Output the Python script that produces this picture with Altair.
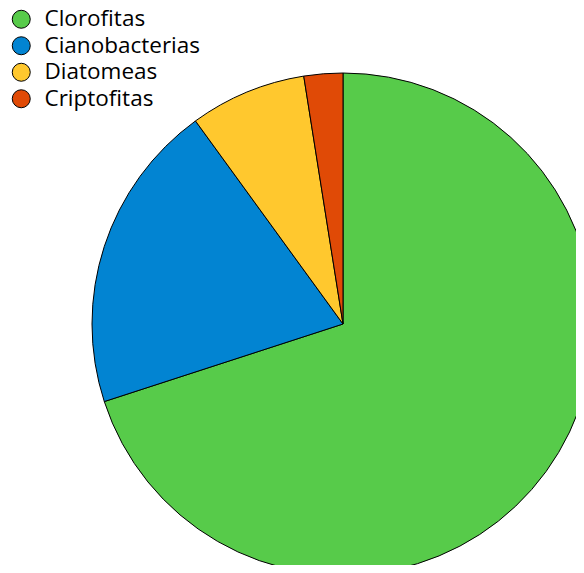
import altair as alt
import pandas as pd

categories = ["Clorofitas", "Cianobacterias", "Diatomeas", "Criptofitas"]
values = [70, 20, 7.5, 2.5]
colors = ["#57CB4A", "#0284D2", "#FFC82E", "#E04A06"]

df = pd.DataFrame({"grupo": categories, "valor": values, "orden": list(range(len(categories)))})

chart = alt.Chart(df).mark_arc(radius=251, stroke="black", strokeWidth=1).encode(
    theta=alt.Theta("valor:Q", stack=True),
    x=alt.value(335),
    y=alt.value(316),
    color=alt.Color(
        "grupo:N",
        scale=alt.Scale(domain=categories, range=colors),
        legend=alt.Legend(
            title=None,
            orient="none",
            legendX=2,
            legendY=0,
            symbolType="circle",
            symbolSize=324,
            symbolStrokeColor="black",
            symbolStrokeWidth=1,
            labelFontSize=22.5,
            labelFont="Open Sans",
            labelColor="black",
            labelOffset=12,
            rowPadding=3.5,
        ),
    ),
    order=alt.Order("orden:Q"),
).properties(width=568, height=557, padding=0, autosize="none").configure_view(stroke=None)

chart.save("out.html", embed_options={"renderer": "svg", "actions": False})
